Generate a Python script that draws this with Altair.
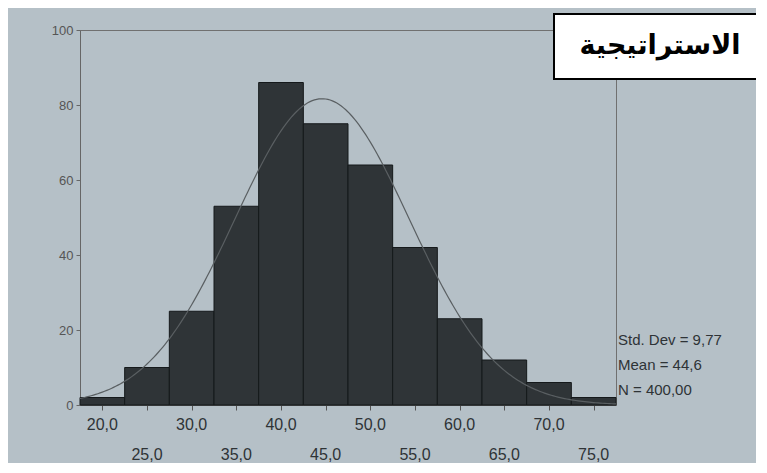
import altair as alt
import pandas as pd

# ---- data ----
bin_centers = [20, 25, 30, 35, 40, 45, 50, 55, 60, 65, 70, 75]
counts = [2, 10, 25, 53, 86, 75, 64, 42, 23, 12, 6, 2]
bin_width = 5
upper_ticks = [20, 30, 40, 50, 60, 70]
upper_labels = ["20,0", "30,0", "40,0", "50,0", "60,0", "70,0"]
lower_ticks = [25, 35, 45, 55, 65, 75]
lower_labels = ["25,0", "35,0", "45,0", "55,0", "65,0", "75,0"]
y_ticks = [0, 20, 40, 60, 80, 100]
std_dev = 9.77
mean = 44.6
n_obs = 400
stats_text = "Std. Dev = 9,77\nMean = 44,6\nN = 400,00"
title_text = "الاستراتيجية"

W, H = 536, 375

bars_df = pd.DataFrame({
    "start": [c - bin_width / 2 for c in bin_centers],
    "end": [c + bin_width / 2 for c in bin_centers],
    "count": counts,
})

xscale = alt.Scale(domain=[17.5, 77.5], nice=False, zero=False)
yscale = alt.Scale(domain=[0, 100], nice=False)

bars = alt.Chart(bars_df).mark_rect(
    fill="#2f3437", stroke="#15191b", strokeWidth=1
).encode(
    x=alt.X("start:Q", scale=xscale,
            axis=alt.Axis(values=bin_centers, labels=False, ticks=True, tickSize=5,
                          tickColor="#555", domainColor="#555", grid=False, title=None)),
    x2="end:Q",
    y=alt.Y("count:Q", scale=yscale,
            axis=alt.Axis(values=y_ticks, tickSize=4, tickColor="#666", domainColor="#666",
                          labelColor="#555", labelFontSize=13, labelFont="Liberation Sans",
                          labelPadding=3, grid=False, title=None)),
)

curve = alt.Chart(alt.sequence(17.5, 77.51, 0.25, as_="xv")).transform_calculate(
    dens=f"{n_obs}*{bin_width}/({std_dev}*sqrt(2*PI))*exp(-0.5*pow((datum.xv-{mean})/{std_dev},2))"
).mark_line(color="#5a5f62", strokeWidth=1.2).encode(
    x=alt.X("xv:Q", scale=xscale),
    y=alt.Y("dens:Q", scale=yscale),
)

upper = alt.Chart(pd.DataFrame({"v": upper_ticks, "t": upper_labels})).mark_text(
    fontSize=16, font="Liberation Sans", color="#2e3336", baseline="middle"
).encode(x=alt.X("v:Q", scale=xscale), y=alt.value(H + 20), text="t:N")

lower = alt.Chart(pd.DataFrame({"v": lower_ticks, "t": lower_labels})).mark_text(
    fontSize=16, font="Liberation Sans", color="#2e3336", baseline="middle"
).encode(x=alt.X("v:Q", scale=xscale), y=alt.value(H + 50), text="t:N")

stats = alt.Chart(pd.DataFrame({"t": [stats_text]})).mark_text(
    fontSize=15, font="Liberation Sans", color="#2e3336", align="left",
    baseline="middle", lineBreak="\n", lineHeight=25
).encode(x=alt.value(W + 2), y=alt.value(H - 65), text="t:N")

box = alt.Chart(pd.DataFrame({"a": [1]})).mark_rect(
    fill="white", stroke="black", strokeWidth=2
).encode(x=alt.value(474), x2=alt.value(690), y=alt.value(-16), y2=alt.value(49))

title = alt.Chart(pd.DataFrame({"t": [title_text]})).mark_text(
    fontSize=27, font="DejaVu Sans", fontWeight="bold", color="black",
    align="center", baseline="middle"
).encode(x=alt.value(580), y=alt.value(16), text="t:N")

chart = alt.layer(bars, curve, upper, lower, stats, box, title).properties(
    width=W, height=H,
    autosize=alt.AutoSizeParams(type="none"),
    padding={"left": 72, "top": 22, "right": 140, "bottom": 58},
    background="#b5c0c7",
).configure_view(stroke="#707070", strokeWidth=1)

chart.save("out.html", embed_options={"renderer": "svg", "actions": False})
